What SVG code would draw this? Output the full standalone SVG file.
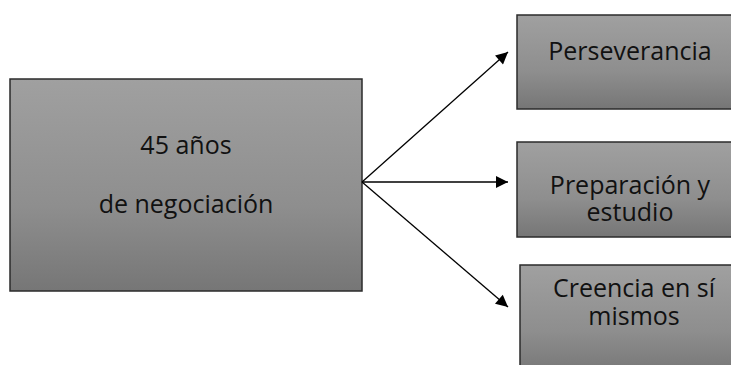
<svg xmlns="http://www.w3.org/2000/svg" width="731" height="365" viewBox="0 0 731 365">
<defs>
<linearGradient id="g" x1="0" y1="0" x2="0" y2="1">
<stop offset="0" stop-color="#a0a0a0"/>
<stop offset="0.6" stop-color="#8e8e8e"/>
<stop offset="1" stop-color="#767676"/>
</linearGradient>
<marker id="ah" viewBox="0 0 10 10" refX="10" refY="5" markerWidth="16" markerHeight="12" markerUnits="userSpaceOnUse" orient="auto">
<path d="M0,0 L10,5 L0,10 z" fill="#000"/>
</marker>
</defs>
<style>
.box{fill:url(#g);stroke:#2b2b2b;stroke-width:1.5}
.t{font-family:"Open Sans","Noto Sans",sans-serif;font-size:25px;fill:#111;text-anchor:middle}
.c{stroke:#000;stroke-width:1.3;fill:none;marker-end:url(#ah)}
</style>
<rect width="731" height="365" fill="#fff"/>
<g id="main">
<rect class="box" x="10" y="79" width="352" height="212"/>
<text class="t" x="186" y="154">45 años</text>
<text class="t" x="186" y="213">de negociación</text>
</g>
<g id="perseverancia">
<rect class="box" x="517" y="15" width="225" height="94"/>
<text class="t" x="630" y="60">Perseverancia</text>
</g>
<g id="preparacion">
<rect class="box" x="517" y="142" width="225" height="95"/>
<text class="t" x="630" y="194">Preparación y</text>
<text class="t" x="630" y="221">estudio</text>
</g>
<g id="creencia">
<rect class="box" x="520" y="265" width="225" height="110"/>
<text class="t" x="634" y="297">Creencia en sí</text>
<text class="t" x="634" y="325">mismos</text>
</g>
<g id="connectors">
<line class="c" x1="362" y1="182" x2="508" y2="52"/>
<line class="c" x1="362" y1="182" x2="508" y2="182"/>
<line class="c" x1="362" y1="182" x2="508" y2="307"/>
</g>
</svg>
